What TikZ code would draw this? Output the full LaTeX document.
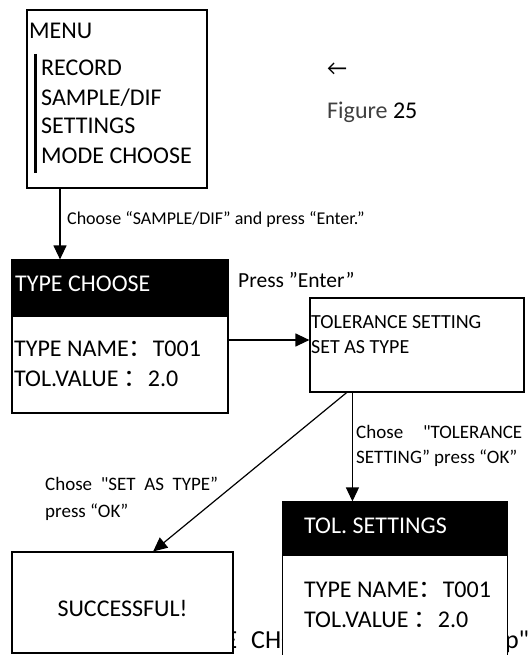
\documentclass[tikz,border=0pt]{standalone}
\usepackage{fontspec}
\setmainfont{Carlito}
\newfontfamily\rawfont{Carlito}[Ligatures=TeXOff]
\newfontfamily\cjkfont{Noto Sans CJK SC}
\usetikzlibrary{arrows.meta,calc}
\newcommand{\fw}{{\cjkfont ：}}
\newcommand{\sq}{{\rawfont"}}
\newcommand{\boxfont}{\fontsize{24}{28}\selectfont}
\newcommand{\lblfont}{\fontsize{19}{23}\selectfont}
\definecolor{figgray}{HTML}{404040}
\begin{document}
\begin{tikzpicture}[x=1pt,y=-1pt,
    box/.style={draw,line width=1.2pt,fill=white,inner sep=0pt},
    hdr/.style={draw,line width=1.2pt,fill=black,inner sep=0pt},
    arr/.style={line width=1.2pt,-{Triangle[length=14pt,width=13pt]}},
    txt/.style={inner sep=0pt,anchor=base west,font=\boxfont},
    lbl/.style={inner sep=0pt,anchor=base west,font=\lblfont}]
  \useasboundingbox (0,0) rectangle (530,655);
  \clip (0,0) rectangle (530,655);
  % text left behind the lower boxes
  \node[inner sep=0pt,anchor=base west,font=\fontsize{26}{30}\selectfont] (hidden) at (169,648)
    {\hbox to 360pt{MODE\hspace{8pt} CHOOSE\hfill \sq Sample Setup\sq}};
  % menu
  \node[box,minimum width=180pt,minimum height=178pt] (menu) at (117,99) {};
  \node[txt] (menut) at (29,39) {MENU};
  \draw[line width=3pt] (35,54) -- (35,173);
  \node[txt] (rec) at (41,76) {RECORD};
  \node[txt] (smp) at (41,106) {SAMPLE/DIF};
  \node[txt] (sett) at (41,134) {SETTINGS};
  \node[txt] (mode) at (41,164) {MODE CHOOSE};
  \node[inner sep=0pt,font=\fontsize{22}{24}\selectfont] (back) at (337,69) {←};
  \node[txt] (fig) at (327,119) {\textcolor{figgray}{Figure} 25};
  % type choose
  \node[box,minimum width=216pt,minimum height=153pt] (typebox) at (120,336.5) {};
  \node[hdr,minimum width=216pt,minimum height=56pt] (typehdr) at (120,288) {};
  \node[txt,text=white] (typet) at (15,291) {TYPE CHOOSE};
  \node[txt] (tname) at (14,356) {TYPE NAME\fw T001};
  \node[txt] (tval) at (14,386) {TOL.VALUE \fw 2.0};
  \node[inner sep=0pt,anchor=base west,font=\fontsize{18}{21}\selectfont] (choosel) at (67,224) {Choose “SAMPLE/DIF” and press “Enter.”};
  \node[inner sep=0pt,anchor=base west,font=\fontsize{21.5}{25}\selectfont] (press) at (238,287) {Press ”Enter”};
  % tolerance / set as type
  \node[box,minimum width=214pt,minimum height=94pt] (tol) at (417,345) {};
  \node[txt,font=\fontsize{20}{24}\selectfont] (tolset) at (311,328) {TOLERANCE SETTING};
  \node[txt,font=\fontsize{20}{24}\selectfont] (setas) at (311,353) {SET AS TYPE};
  \node[lbl] (lbla) at (45,490) {\hbox to 173pt{Chose\hfill\sq SET\hfill AS\hfill TYPE”}};
  \node[lbl] (lblb) at (45,517) {press “OK”};
  \node[lbl] (lblc) at (356,438) {\hbox to 166pt{Chose\hfill\sq TOLERANCE}};
  \node[lbl] (lbld) at (356,463) {SETTING” press “OK”};
  % results
  \node[box,minimum width=221pt,minimum height=101pt] (succ) at (122.5,602.5) {};
  \node[inner sep=0pt,anchor=base,font=\boxfont] (succt) at (122.5,616) {SUCCESSFUL!};
  \node[box,minimum width=225pt,minimum height=198pt] (tolbox) at (395,601) {};
  \node[hdr,minimum width=225pt,minimum height=53pt] (tolhdr) at (395,528.5) {};
  \node[txt,text=white] (tolt) at (304,533) {TOL. SETTINGS};
  \node[txt] (tname2) at (304,597) {TYPE NAME\fw T001};
  \node[txt] (tval2) at (304,627) {TOL.VALUE \fw 2.0};
  % connectors
  \coordinate (c1) at (60,0);
  \coordinate (c2) at (0,340);
  \draw[arr] (c1 |- menu.south) -- (c1 |- typehdr.north);
  \draw[arr] (typebox.east |- c2) -- (tol.west |- c2);
  \coordinate (d1) at ($(tol.south west)!0.173!(tol.south east)$);
  \coordinate (d2) at ($(tol.south west)!0.2!(tol.south east)$);
  \draw[arr] (d1) -- ($(succ.north west)!0.638!(succ.north east)$);
  \draw[arr] (d2) -- (d2 |- tolhdr.north);
\end{tikzpicture}
\end{document}
